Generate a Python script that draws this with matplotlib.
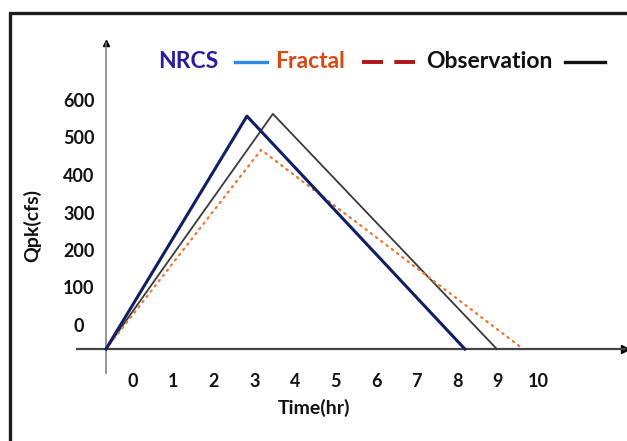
import matplotlib
matplotlib.use("Agg")
import matplotlib.pyplot as plt
from matplotlib.lines import Line2D
from matplotlib.patches import Rectangle
from matplotlib.transforms import ScaledTranslation

# triangular hydrographs: time (hr) and peak discharge (cfs)
nrcs_t = [0.0, 3.48, 8.86]
nrcs_q = [0, 621, 0]
obs_t = [0.0, 4.12, 9.65]
obs_q = [0, 627, 0]
fractal_t = [0.0, 3.83, 10.30]
fractal_q = [0, 531, 0]

x_ticks = list(range(11))
x_labels = [str(v) for v in x_ticks]
y_ticks = [0, 100, 200, 300, 400, 500, 600]
y_labels = [str(v) for v in y_ticks]

series_names = ["NRCS", "Fractal", "Observation"]

plt.rcParams["font.family"] = ["Lato", "DejaVu Sans"]
plt.rcParams["font.weight"] = "bold"

W, H = 627, 441
fig = plt.figure(figsize=(W / 100, H / 100), dpi=100)

# axes placed so the hydrograph origin sits where the two axis lines cross
ax = fig.add_axes([77 / W, 68 / H, 548 / W, 330 / H])
ax.set_xlim(-29 / 40.5, 519 / 40.5)
ax.set_ylim(-24 / 0.375, 306 / 0.375)

ax.plot(obs_t, obs_q, color="#3a3a3a", lw=1.3, zorder=3)
ax.plot(fractal_t, fractal_q, color="#f07a35", lw=1.7, ls=(0, (0.6, 2.2)),
        dash_capstyle="round", zorder=3)
ax.plot(nrcs_t, nrcs_q, color="#0f1f66", lw=2.2, zorder=4)

for side in ("top", "right"):
    ax.spines[side].set_visible(False)
ax.spines["bottom"].set_position(("data", 0))
ax.spines["left"].set_position(("data", 0))
ax.spines["bottom"].set_color("#444444")
ax.spines["bottom"].set_linewidth(1.6)
ax.spines["left"].set_color("#777777")
ax.spines["left"].set_linewidth(1.1)
ax.plot(1, 0, ">", color="black", ms=6, transform=ax.get_yaxis_transform(), clip_on=False)
ax.plot(0, 1, "^", color="black", ms=5, transform=ax.get_xaxis_transform(), clip_on=False)

ax.set_xticks(x_ticks)
ax.set_xticklabels(x_labels)
ax.set_yticks(y_ticks)
ax.set_yticklabels(y_labels)
ax.tick_params(length=0, labelsize=13, colors="#111111")
ax.tick_params(axis="x", pad=17)
ax.tick_params(axis="y", pad=0)

# labels sit off their ticks
for lab in ax.get_xticklabels():
    lab.set_transform(lab.get_transform() + ScaledTranslation(0.27, 0, fig.dpi_scale_trans))
for lab in ax.get_yticklabels():
    lab.set_horizontalalignment("center")
    lab.set_transform(lab.get_transform() + ScaledTranslation(-0.27, 0.24, fig.dpi_scale_trans))

fig.text(314 / W, 1 - 408 / H, "Time(hr)", ha="center", va="center",
         fontsize=14, color="#111111")
fig.text(32 / W, 1 - 225 / H, "Qpk(cfs)", ha="center", va="center",
         rotation=90, fontsize=14, color="#111111")

# key along the top: name first, then its line sample
key_y = 1 - 62 / H
key_text_x = [158, 275, 426]
key_text_colors = ["#2a1c9c", "#d9480f", "#111111"]
key_line_x = [(235, 267), (362, 415), (565, 605)]
key_line_styles = [
    dict(color="#2a8be0", lw=2.4, ls="-"),
    dict(color="#b01515", lw=2.8, ls=(0, (5.4, 2.9))),
    dict(color="#111111", lw=2.4, ls="-"),
]
for name, tx, tc, (x0, x1), st in zip(series_names, key_text_x, key_text_colors,
                                        key_line_x, key_line_styles):
    fig.text(tx / W, key_y, name, ha="left", va="center", fontsize=16.5, color=tc)
    fig.add_artist(Line2D([x0 / W, x1 / W], [key_y, key_y], transform=fig.transFigure, **st))

# outer frame
fig.patches.append(Rectangle((10 / W, -0.1), 1.2, 1.1 - 13 / H, transform=fig.transFigure,
                             fill=False, lw=2.4, ec="#1e1e1e", zorder=10))

fig.savefig("out.png", dpi=100)
